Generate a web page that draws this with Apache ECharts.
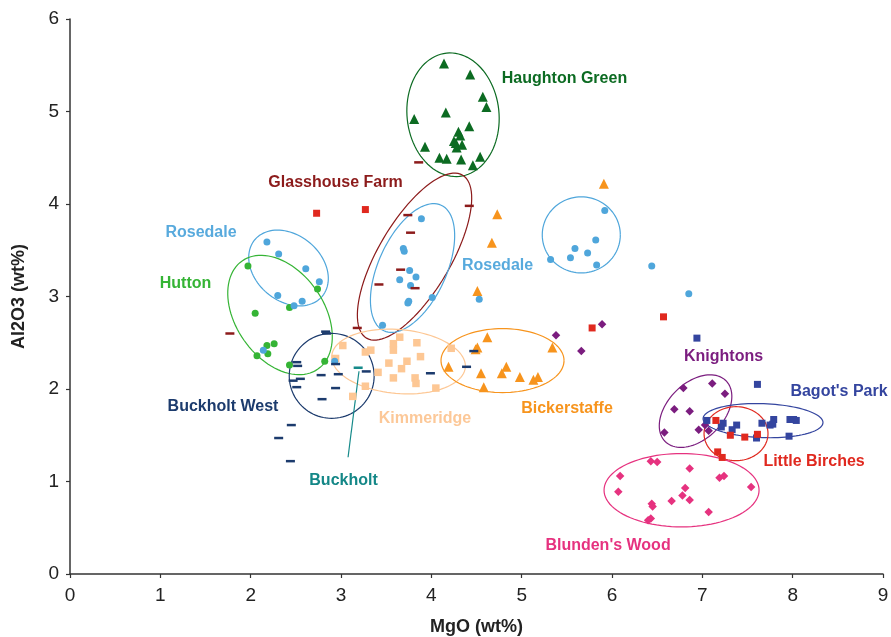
<!DOCTYPE html>
<html>
<head>
<meta charset="utf-8">
<script src="https://cdn.jsdelivr.net/npm/echarts@6/dist/echarts.min.js"></script>
<style>html,body{margin:0;padding:0;background:#fff;}#c{width:891px;height:637px;}</style>
</head>
<body>
<div id="c"></div>
<script>
// ---- data (MgO wt%, Al2O3 wt%) ----
const xTicks = [0,1,2,3,4,5,6,7,8,9];
const yTicks = [0,1,2,3,4,5,6];

const rosedale = [[2.18,3.59],[2.31,3.46],[2.61,3.30],[2.76,3.16],[2.30,3.01],[2.57,2.95],[2.48,2.90],[2.14,2.42],
  [3.89,3.84],[3.69,3.52],[3.70,3.49],[3.76,3.28],[3.83,3.21],[3.65,3.18],[3.77,3.12],[4.01,2.99],[3.75,2.95],[3.74,2.93],[3.46,2.69],[4.53,2.97],[2.93,2.30],
  [5.92,3.93],[5.82,3.61],[5.59,3.52],[5.73,3.47],[5.54,3.42],[5.32,3.40],[5.83,3.34],[6.44,3.33],[6.85,3.03]];
const hutton = [[1.97,3.33],[2.74,3.08],[2.43,2.88],[2.05,2.82],[2.26,2.49],[2.18,2.47],[2.07,2.36],[2.19,2.38],[2.43,2.26],[2.82,2.30]];
const haughtonGreen = [[4.14,5.52],[4.43,5.40],[4.57,5.16],[4.61,5.05],[4.16,4.99],[3.81,4.92],[4.42,4.84],[4.30,4.78],[4.32,4.74],[4.27,4.66],[4.34,4.64],[4.28,4.61],[4.25,4.68],[3.93,4.62],[4.09,4.50],[4.17,4.49],[4.33,4.48],[4.54,4.51],[4.46,4.42]];
const glasshouseFarm = [[3.86,4.45],[4.42,3.98],[3.74,3.88],[3.77,3.69],[3.66,3.29],[3.42,3.13],[3.82,3.09],[3.18,2.66],[1.77,2.60]];
const littleBirches = [[2.73,3.90],[3.27,3.94],[5.78,2.66],[6.57,2.78],[7.15,1.66],[7.31,1.50],[7.47,1.48],[7.61,1.51],[7.17,1.32],[7.22,1.26]];
const bagotsPark = [[6.94,2.55],[7.61,2.05],[7.05,1.66],[7.23,1.63],[7.21,1.59],[7.38,1.61],[7.33,1.56],[7.66,1.63],[7.75,1.61],[7.79,1.67],[7.78,1.62],[7.97,1.67],[8.04,1.66],[8.01,1.67],[7.96,1.49],[7.60,1.47]];
const knightons = [[5.38,2.58],[5.89,2.70],[5.66,2.41],[6.79,2.01],[7.11,2.06],[7.25,1.95],[6.69,1.78],[6.86,1.76],[7.03,1.61],[6.96,1.56],[7.07,1.55],[6.58,1.53]];
const blundensWood = [[6.43,1.22],[6.50,1.21],[6.86,1.14],[6.09,1.06],[7.19,1.04],[7.24,1.06],[7.54,0.94],[6.81,0.93],[6.07,0.89],[6.78,0.85],[6.86,0.80],[6.66,0.79],[6.44,0.76],[6.45,0.73],[7.07,0.67],[6.43,0.60],[6.40,0.58]];
const buckholtWest = [[2.83,2.62],[2.84,2.60],[2.51,2.29],[2.52,2.25],[2.55,2.11],[2.47,2.09],[2.51,2.02],[2.78,2.15],[2.94,2.27],[2.97,2.16],[3.28,2.19],[2.94,2.01],[2.79,1.89],[2.45,1.61],[2.31,1.47],[2.44,1.22],[3.99,2.17],[4.39,2.24],[4.47,2.41]];
const buckholt = [[3.19,2.23]];
const kimmeridge = [[3.02,2.47],[2.94,2.33],[3.27,2.40],[3.33,2.42],[3.65,2.56],[3.58,2.49],[3.58,2.42],[3.84,2.50],[3.88,2.35],[3.53,2.28],[3.73,2.30],[3.67,2.22],[3.41,2.18],[3.58,2.12],[3.82,2.12],[3.83,2.06],[3.27,2.03],[4.05,2.01],[3.13,1.92],[4.22,2.44]];
const bickerstaffe = [[5.91,4.22],[4.73,3.89],[4.67,3.58],[4.51,3.06],[4.62,2.56],[4.51,2.45],[4.49,2.43],[5.34,2.45],[4.19,2.24],[4.83,2.24],[4.78,2.17],[4.55,2.17],[4.98,2.13],[5.13,2.10],[5.18,2.13],[4.58,2.02]];

// ellipses: [cx, cy, semiA (x units), semiB (x units), angle deg, group]
const ellipses = [
  [4.240,4.965,0.686,0.509,96,'hg'],
  [3.814,3.431,1.047,0.399,59.5,'gf'],
  [3.792,3.308,0.764,0.376,65.5,'ro'],
  [2.419,3.308,0.487,0.365,-40,'ro'],
  [2.325,2.800,0.731,0.487,-55,'hu'],
  [2.897,2.142,0.470,0.470,0,'bw'],
  [3.637,2.297,0.742,0.354,-5,'ki'],
  [4.788,2.307,0.681,0.354,0,'bi'],
  [5.660,3.666,0.432,0.421,0,'ro'],
  [6.925,1.761,0.476,0.310,45,'kn'],
  [7.672,1.658,0.664,0.188,-2,'bp'],
  [7.373,1.517,0.354,0.299,0,'lb'],
  [6.770,0.906,0.858,0.406,0,'bl']
];
// labels: [text, x, y, group]
const labels = [
  ['Haughton Green',5.474,5.355,'hg'],
  ['Glasshouse Farm',2.939,4.228,'gf'],
  ['Rosedale',1.450,3.687,'ro'],
  ['Hutton',1.279,3.135,'hu'],
  ['Rosedale',4.733,3.330,'ro'],
  ['Buckholt West',1.694,1.815,'bw'],
  ['Kimmeridge',3.930,1.685,'ki'],
  ['Bickerstaffe',5.502,1.793,'bi'],
  ['Buckholt',3.028,1.014,'bu'],
  ['Knightons',7.235,2.345,'kn'],
  ["Bagot's Park",8.513,1.977,'bp'],
  ['Little Birches',8.237,1.220,'lb'],
  ["Blunden's Wood",5.956,0.311,'bl']
];
const leader = [[3.199,2.192],[3.078,1.262]];

const colors = {
  ro:'#4fa6db', hu:'#35b435', hg:'#0c6b22', gf:'#8c1b1b', lb:'#e0291f', bp:'#34459f',
  kn:'#7b1d7f', bl:'#e6327f', bw:'#1c3b6d', bu:'#168a8a', ki:'#fdc794', bi:'#f7941d'
};
const labelColors = Object.assign({}, colors, {ro:'#58aadd', ki:'#fcc898', bu:'#148787'});

function sc(name, data, symbol, size, key) {
  return {type:'scatter', name, data, symbol, symbolSize:size, z:3,
    itemStyle:{color:colors[key], opacity:1}, silent:true};
}

const chart = echarts.init(document.getElementById('c'));
const font = '"Liberation Sans", Arial, Helvetica, sans-serif';
chart.setOption({
  animation:false,
  grid:{left:70, right:8, top:19, bottom:63, containLabel:false, outerBoundsMode:'none'},
  xAxis:{type:'value', min:0, max:9, interval:1,
    name:'MgO (wt%)', nameLocation:'middle', nameGap:44,
    nameTextStyle:{fontFamily:font, fontSize:18, fontWeight:'bold', color:'#222'},
    axisLine:{show:true, lineStyle:{color:'#333', width:1.5}},
    axisTick:{show:true, length:4, lineStyle:{color:'#333', width:1.2}},
    axisLabel:{fontFamily:font, fontSize:19, color:'#222', margin:12},
    splitLine:{show:false}},
  yAxis:{type:'value', min:0, max:6, interval:1,
    name:'Al2O3 (wt%)', nameLocation:'middle', nameGap:42,
    nameTextStyle:{fontFamily:font, fontSize:18, fontWeight:'bold', color:'#222'},
    axisLine:{show:true, lineStyle:{color:'#333', width:1.5}},
    axisTick:{show:true, length:4, lineStyle:{color:'#333', width:1.2}},
    axisLabel:{fontFamily:font, fontSize:19, color:'#222', margin:11},
    splitLine:{show:false}},
  series:[
    {type:'custom', name:'ellipses', z:2, silent:true, data:ellipses,
      renderItem:function(params, api){
        const e = ellipses[params.dataIndex];
        const c = api.coord([e[0], e[1]]);
        const s = api.size([1,1]);
        const a = e[2]*s[0], b = e[3]*s[0], phi = e[4]*Math.PI/180;
        const pts = [];
        for (let i=0;i<=96;i++){
          const t = i/96*2*Math.PI;
          const u = a*Math.cos(t), v = b*Math.sin(t);
          pts.push([c[0] + u*Math.cos(phi) - v*Math.sin(phi), c[1] - (u*Math.sin(phi) + v*Math.cos(phi))]);
        }
        return {type:'polyline', shape:{points:pts}, style:{stroke:colors[e[5]], fill:null, lineWidth:1.2}};
      }},
    {type:'line', data:leader, symbol:'none', z:2, silent:true, lineStyle:{color:colors.bu, width:1.2}},
    sc('Kimmeridge', kimmeridge, 'rect', 7.5, 'ki'),
    sc('Bickerstaffe', bickerstaffe, 'triangle', 10, 'bi'),
    sc('Hutton', hutton, 'circle', 7, 'hu'),
    sc('Rosedale', rosedale, 'circle', 7, 'ro'),
    sc('Haughton Green', haughtonGreen, 'triangle', 10, 'hg'),
    sc('Glasshouse Farm', glasshouseFarm, 'rect', [9,2.5], 'gf'),
    sc('Buckholt West', buckholtWest, 'rect', [9,2.5], 'bw'),
    sc('Buckholt', buckholt, 'rect', [9,2.5], 'bu'),
    sc('Knightons', knightons, 'diamond', 8.5, 'kn'),
    sc('Blunden\'s Wood', blundensWood, 'diamond', 8.5, 'bl'),
    sc('Bagot\'s Park', bagotsPark, 'rect', 7, 'bp'),
    sc('Little Birches', littleBirches, 'rect', 7, 'lb'),
    {type:'custom', name:'labels', z:4, silent:true, data:labels,
      renderItem:function(params, api){
        const l = labels[params.dataIndex];
        const p = api.coord([l[1], l[2]]);
        return {type:'text', x:p[0], y:p[1], style:{text:l[0], fill:labelColors[l[3]],
          font:'bold 16px ' + font, align:'center', verticalAlign:'middle'}};
      }}
  ]
});
</script>
</body>
</html>
